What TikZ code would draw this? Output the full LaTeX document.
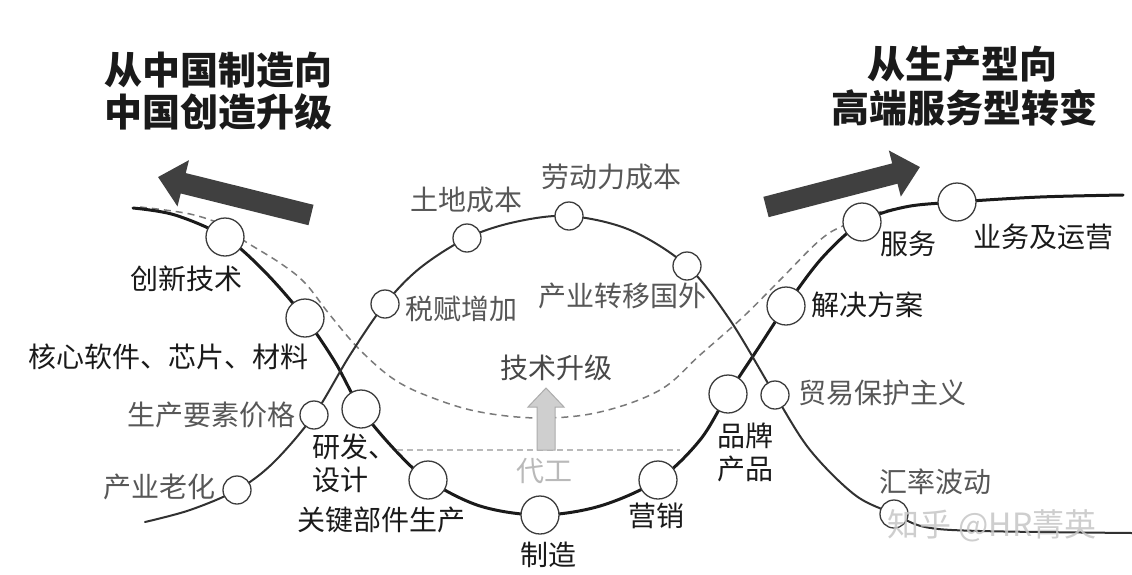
\documentclass[tikz,border=0pt]{standalone}
\usepackage{fontspec}
\setmainfont{Noto Sans CJK SC}
\usetikzlibrary{arrows.meta}
\definecolor{ink}{HTML}{1A1A1A}
\definecolor{soft}{HTML}{575757}
\definecolor{darkarrow}{HTML}{404040}
\definecolor{dashgray}{HTML}{7A7A7A}
\begin{document}
\begin{tikzpicture}[x=1pt,y=-1pt,
  bigdot/.style={circle, draw=ink!85, line width=1.3pt, fill=white, minimum size=38pt, inner sep=0pt},
  smalldot/.style={circle, draw=ink!85, line width=1.3pt, fill=white, minimum size=28pt, inner sep=0pt},
  lbl/.style={font=\fontsize{28}{32}\selectfont, text=ink, inner sep=0pt},
  glbl/.style={lbl, text=soft},
  headline/.style={font=\fontsize{38}{44}\selectfont\bfseries, text=ink, inner sep=0pt},
  thickcurve/.style={line width=3pt, draw=ink, line cap=round},
  thincurve/.style={line width=2pt, draw=ink!90, line cap=round},
  dashcurve/.style={line width=1.5pt, draw=dashgray, dash pattern=on 7pt off 5pt},
  bigarrow/.style={line width=21pt, draw=darkarrow, -{Triangle[length=26pt,width=46pt]}}
]
\useasboundingbox (0,0) rectangle (1132,574);
\fill[white] (0,0) rectangle (1132,574);

% circle positions
\coordinate (pa1) at (225,237);
\coordinate (pa2) at (305,318);
\coordinate (pa3) at (361,409);
\coordinate (pa4) at (428,480);
\coordinate (pa5) at (540,515);
\coordinate (pa6) at (658,480);
\coordinate (pa7) at (728,394);
\coordinate (pa8) at (786,306);
\coordinate (pa9) at (862,222);
\coordinate (pa10) at (957,202);
\coordinate (pb1) at (237,490);
\coordinate (pb2) at (314,415);
\coordinate (pb3) at (385,304);
\coordinate (pb4) at (467,238);
\coordinate (pb5) at (569,216);
\coordinate (pb6) at (687,266);
\coordinate (pb7) at (775,395);
\coordinate (pb8) at (894,514);

% dashed upgrade curve
\draw[dashcurve] plot[smooth, tension=0.6] coordinates {
  (140,207) (190,214) (225,226) (243,240) (280,263) (305,283) (330,315) (360,350)
  (395,380) (433,398) (480,412) (540,418) (600,412) (660,390) (700,355) (743,317)
  (780,280) (820,240) (845,225) (880,212) (920,205) (945,203)};

% thick smile curve
\draw[thickcurve] plot[smooth, tension=0.55] coordinates {
  (133,208) (175,215) (pa1) (265,272) (pa2) (335,362) (pa3) (395,450) (pa4)
  (480,506) (pa5) (600,506) (pa6) (700,440) (pa7) (757,350) (pa8) (822,258)
  (pa9) (905,207) (pa10) (1040,197) (1123,195)};

% thin hump curve
\draw[thincurve] plot[smooth, tension=0.55] coordinates {
  (145,522) (190,510) (pb1) (273,463) (pb2) (350,355) (pb3) (420,268) (pb4)
  (515,222) (pb5) (630,230) (pb6) (730,320) (pb7) (810,450) (855,495) (pb8)
  (925,527) (980,531) (1132,533)};

% OEM level and upgrade arrow
\coordinate (hl) at (397,450);
\coordinate (hr) at (680,450);
\draw[line width=1.2pt, draw=gray!55, dash pattern=on 6pt off 4pt] (hl) -- (hr);
\filldraw[fill=gray!38, draw=gray!65, line width=1pt]
  (537,450) -- (537,407) -- (528,407) -- (546,388) -- (564,407) -- (555,407) -- (555,450) -- cycle;

% circles
\node[bigdot] (a1) at (pa1) {};
\node[bigdot] (a2) at (pa2) {};
\node[bigdot] (a3) at (pa3) {};
\node[bigdot] (a4) at (pa4) {};
\node[bigdot] (a5) at (pa5) {};
\node[bigdot] (a6) at (pa6) {};
\node[bigdot] (a7) at (pa7) {};
\node[bigdot] (a8) at (pa8) {};
\node[bigdot] (a9) at (pa9) {};
\node[bigdot] (a10) at (pa10) {};
\node[smalldot] (b1) at (pb1) {};
\node[smalldot] (b2) at (pb2) {};
\node[smalldot] (b3) at (pb3) {};
\node[smalldot] (b4) at (pb4) {};
\node[smalldot] (b5) at (pb5) {};
\node[smalldot] (b6) at (pb6) {};
\node[smalldot] (b7) at (pb7) {};
\node[smalldot] (b8) at (pb8) {};

% labels, thick curve
\node[lbl] (la1) at (186,279) {创新技术};
\node[lbl] (la2) at (168,357) {核心软件、芯片、材料};
\node[lbl, anchor=west] (la3a) at (312,447) {研发、};
\node[lbl, anchor=west] (la3b) at (312,480) {设计};
\node[lbl] (la4) at (381,520) {关键部件生产};
\node[lbl] (la5) at (548,555) {制造};
\node[lbl] (la6) at (656,516) {营销};
\node[lbl, anchor=west] (la7a) at (717,436) {品牌};
\node[lbl, anchor=west] (la7b) at (717,469) {产品};
\node[lbl] (la8) at (867,305) {解决方案};
\node[lbl] (la9) at (908,244) {服务};
\node[lbl] (la10) at (1043,237) {业务及运营};

% labels, thin curve
\node[glbl] (lb1) at (159,487) {产业老化};
\node[glbl] (lb2) at (211,415) {生产要素价格};
\node[glbl] (lb3) at (461,309) {税赋增加};
\node[glbl] (lb4) at (466,200) {土地成本};
\node[glbl] (lb5) at (611,177) {劳动力成本};
\node[glbl] (lb6) at (622,296) {产业转移国外};
\node[glbl] (lb7) at (882,393) {贸易保护主义};
\node[glbl] (lb8) at (935,482) {汇率波动};

\node[lbl, text=ink!80] (up) at (556,368) {技术升级};
\node[lbl, text=gray!55] (oem) at (544,471) {代工};

% big direction arrows
\coordinate (lt) at (311,215);
\coordinate (lh) at (158,177);
\draw[bigarrow] (lt) -- (lh);
\coordinate (rt) at (766,207);
\coordinate (rh) at (920,167);
\draw[bigarrow] (rt) -- (rh);

% headings
\node[headline] (h1) at (218,70) {从中国制造向};
\node[headline] (h2) at (218,112) {中国创造升级};
\node[headline] (h3) at (962,64) {从生产型向};
\node[headline] (h4) at (964,108) {高端服务型转变};

% watermark
\node[font=\fontsize{32}{36}\selectfont, text=gray!45, opacity=0.85, inner sep=0pt] (wm) at (992,526) {知乎 @HR菁英};
\end{tikzpicture}
\end{document}
